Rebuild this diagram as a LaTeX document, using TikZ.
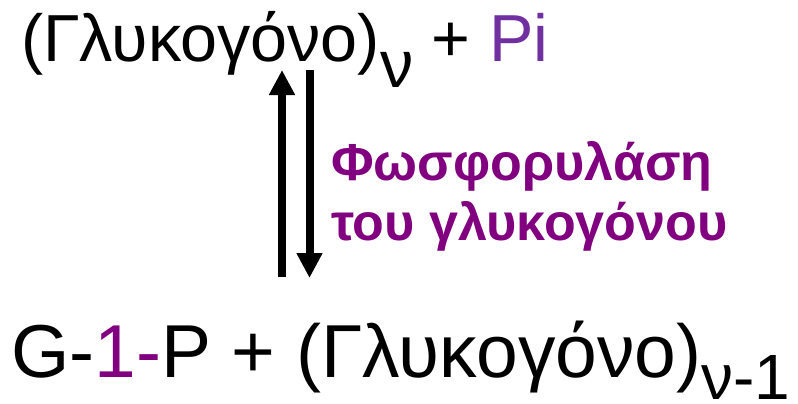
\documentclass[tikz,border=0pt]{standalone}
\usepackage{fontspec}
\setmainfont{Liberation Sans}
\usetikzlibrary{arrows.meta}
\definecolor{pilila}{HTML}{7030A0}
\definecolor{enzlila}{HTML}{800080}
\tikzset{
  eqtext/.style={inner sep=0pt, anchor=base west},
  enztext/.style={inner sep=0pt, anchor=base west, text=enzlila, font=\fontsize{52}{60}\selectfont\bfseries},
  rxarrow/.style={line width=8pt, -{Triangle[width=24.5pt,length=25pt]}},
}
\begin{document}
\begin{tikzpicture}[x=1pt,y=-1pt]
\useasboundingbox (0,0) rectangle (798,404);
\node[eqtext, font=\fontsize{66.5}{70}\selectfont] (top) at (21,62)
  {(Γλυκογόνο)\raisebox{-26pt}{ν} + \textcolor{pilila}{Pi}};
\node[eqtext, font=\fontsize{75}{80}\selectfont] (bot) at (11,377)
  {G-\textcolor{enzlila}{1-}P + (Γλυκογόνο)\raisebox{-22pt}{\fontsize{64}{66}\selectfont ν-1}};
\coordinate (upS) at (282,277);
\coordinate (upE) at (282,70);
\coordinate (dnS) at (309.5,70);
\coordinate (dnE) at (309.5,278);
\draw[rxarrow] (upS) -- (upE);
\draw[rxarrow] (dnS) -- (dnE);
\node[enztext] (enz1) at (331,180) {Φωσφορυλάση};
\node[enztext] (enz2) at (331,240) {του γλυκογόνου};
\end{tikzpicture}
\end{document}
